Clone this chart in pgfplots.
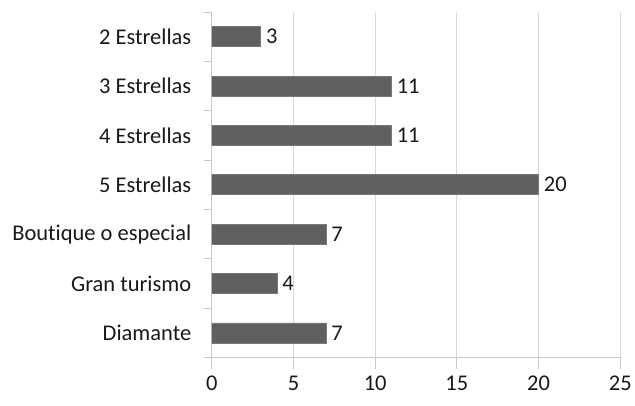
\documentclass[border=0pt]{standalone}
\usepackage{fontspec}
\setmainfont{Carlito}[Ligatures=NoCommon]
\usepackage{pgfplots}
\pgfplotsset{compat=1.18}
\definecolor{barfill}{RGB}{96,96,96}
\definecolor{gridc}{RGB}{217,217,217}
\definecolor{axisc}{RGB}{200,200,200}
\begin{document}
\begin{tikzpicture}
\begin{axis}[
  scale only axis, width=409pt, height=346pt,
  xbar, bar width=20pt,
  xmin=0, xmax=25, xtick={0,5,...,25},
  ymin=0.5, ymax=7.5, ytick={1,...,7},
  yticklabels={Diamante, Gran turismo, Boutique o especial, 5 Estrellas, 4 Estrellas, 3 Estrellas, 2 Estrellas},
  minor ytick={0.5,1.5,...,7.5},
  axis x line*=bottom, axis y line*=left,
  axis line style={axisc, line width=0.8pt, -},
  xmajorgrids, grid style={gridc, line width=0.8pt},
  tick align=outside,
  major tick length=11pt, minor tick length=8pt,
  major x tick style={axisc, line width=0.8pt},
  major y tick style={draw=none},
  minor y tick style={axisc, line width=0.8pt},
  /pgf/number format/assume math mode=true,
  ticklabel style={font=\fontsize{22.5}{26}\selectfont, text=black!90},
  yticklabel style={xshift=-6pt},
  xticklabel style={yshift=-4pt},
  nodes near coords,
  nodes near coords align={horizontal},
  every node near coord/.append style={font=\fontsize{22.5}{26}\selectfont, text=black!90, inner sep=5pt},
]
\addplot[fill=barfill, draw=barfill!85!white, line width=0.6pt] coordinates {
  (7,1) (4,2) (7,3) (20,4) (11,5) (11,6) (3,7)
};
\end{axis}
\path (current axis.south west) ++(-212pt,-48pt) coordinate (a);
\path (current axis.north east) ++(14pt,12pt) coordinate (b);
\path (a) rectangle (b);
\end{tikzpicture}
\end{document}
